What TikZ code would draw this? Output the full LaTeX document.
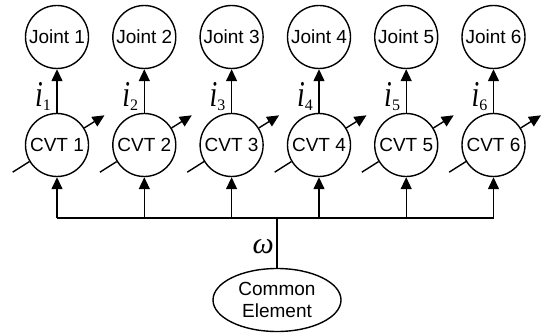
\documentclass[tikz,border=0pt]{standalone}
\usepackage{fontspec}
\setmainfont{Liberation Sans}
\newfontfamily\timesfont{Liberation Serif}
\usetikzlibrary{arrows.meta,calc,shapes.geometric}
\begin{document}
\begin{tikzpicture}[x=1pt,y=1pt,
  lw/.style={line width=1.4pt},
  circ/.style={circle,draw,line width=1.4pt,minimum size=63pt,inner sep=0pt,fill=white,font=\fontsize{19}{20}\selectfont},
  arr/.style={line width=1.4pt,-{Triangle[length=12pt,width=11pt]}},
  lbl/.style={inner sep=0pt}
]
\useasboundingbox (0,0) rectangle (545,335);
\foreach \i/\x in {1/57,2/144.3,3/231.6,4/319,5/406.2,6/493.5}{
  \node[circ] (j\i) at (\x,298) {Joint \i};
  \node[circ] (c\i) at (\x,190) {CVT \i};
  \coordinate (b\i) at (\x,117);
  \draw[arr] (c\i) -- (j\i);
  \draw[lw] ($(c\i)+(211.5:52)$) -- (c\i.211.5);
  \draw[arr] (c\i.32) -- ($(c\i)+(32:56)$);
  \draw[arr] (b\i) -- (c\i);
  \node[lbl,anchor=base east] (l\i) at (\x-6,228) {\scalebox{1}[1.3]{\timesfont\itshape\fontsize{28}{28}\selectfont i}{\timesfont\fontsize{16}{16}\selectfont\raisebox{-4pt}{\i}}};
}
\draw[lw] (b1) -- (b6);
\node[ellipse,draw,lw,minimum width=128pt,minimum height=63pt,inner sep=0pt,align=center,font=\fontsize{19}{22}\selectfont] (ce) at (277,35) {Common\\Element};
\coordinate (m) at (277,117);
\draw[lw] (ce) -- (m);
\node[lbl,anchor=base east] (w) at (274,82) {\timesfont\itshape\fontsize{30}{30}\selectfont ω};
\end{tikzpicture}
\end{document}
